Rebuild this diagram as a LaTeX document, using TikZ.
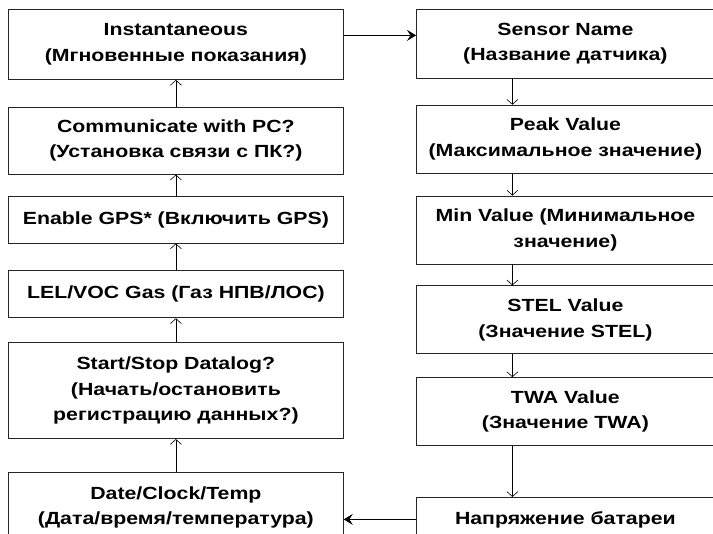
\documentclass[tikz,border=0pt]{standalone}
\usepackage{fontspec}
\setmainfont{Liberation Sans}[FakeStretch=1.21]
\usetikzlibrary{arrows.meta,positioning}

\begin{document}
\begin{tikzpicture}[MenuBox/.style = {shape=rectangle, draw=black!85, line width=0.8pt, align=center, inner sep=0pt, font=\fontsize{17.6}{25.5}\selectfont\bfseries},
	LeftBox/.style = {MenuBox, text width=335pt},
	RightBox/.style = {MenuBox, text width=298pt, minimum height=68pt},
	FlowArrow/.style = {draw, -{Straight Barb[length=5pt,width=11pt]}, line width=0.6pt},
	SideArrow/.style = {draw, -{Stealth[length=9pt,width=11pt,inset=3.5pt]}, line width=0.6pt}]

			\useasboundingbox (0,0) rectangle (713pt,-534pt);
			\clip (0,0) rectangle (713pt,-534pt);

			\node[LeftBox, minimum height=70pt, anchor=north west] (inst) at (8pt,-9pt) {Instantaneous\\(Мгновенные показания)};
			\node[LeftBox, minimum height=67pt, below=27pt of inst] (comm) {Communicate with PC?\\(Установка связи с ПК?)};
			\node[LeftBox, minimum height=47pt, below=21pt of comm] (gps) {Enable GPS* (Включить GPS)};
			\node[LeftBox, minimum height=47pt, below=27pt of gps] (lel) {LEL/VOC Gas (Газ НПВ/ЛОС)};
			\node[LeftBox, minimum height=96pt, below=24pt of lel] (dlog) {Start/Stop Datalog?\\(Начать/остановить\\регистрацию данных?)};
			\node[LeftBox, minimum height=70pt, below=33pt of dlog] (date) {Date/Clock/Temp\\(Дата/время/температура)};

			\node[RightBox, minimum height=69pt, anchor=north west] (sname) at (416pt,-9pt) {Sensor Name\\(Название датчика)};
			\node[RightBox, below=26pt of sname] (peak) {Peak Value\\(Максимальное значение)};
			\node[RightBox, below=22pt of peak] (minv) {Min Value (Минимальное\\значение)};
			\node[RightBox, below=21pt of minv] (stel) {STEL Value\\(Значение STEL)};
			\node[RightBox, below=23pt of stel] (twa) {TWA Value\\(Значение TWA)};
			\node[RightBox, minimum height=44pt, below=51pt of twa] (batt) {Напряжение батареи};

			\path[every edge/.style={FlowArrow}]
				(date) edge (dlog)
				(dlog) edge (lel)
				(lel) edge (gps)
				(gps) edge (comm)
				(comm) edge (inst)
				([xshift=-53pt]sname.south) edge ([xshift=-53pt]peak.north)
				([xshift=-53pt]peak.south) edge ([xshift=-53pt]minv.north)
				([xshift=-53pt]minv.south) edge ([xshift=-53pt]stel.north)
				([xshift=-53pt]stel.south) edge ([xshift=-53pt]twa.north)
				([xshift=-53pt]twa.south) edge ([xshift=-53pt]batt.north)
			;

			\path[every edge/.style={SideArrow}]
				([yshift=9pt]inst.east) edge ([yshift=9pt]inst.east -| sname.west)
				(batt.west) edge (batt.west -| date.east)
			;
		\end{tikzpicture}
\end{document}
